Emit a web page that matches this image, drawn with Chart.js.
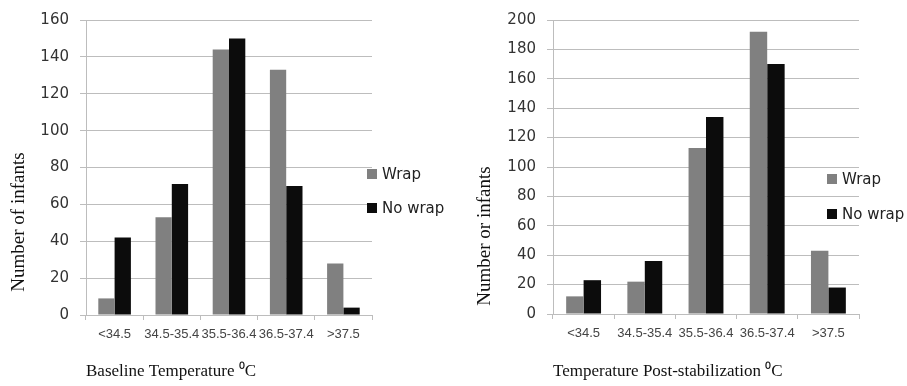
<!DOCTYPE html>
<html>
<head>
<meta charset="utf-8">
<script src="https://cdn.jsdelivr.net/npm/chart.js@4.4.1/dist/chart.umd.min.js"></script>
<style>
  body { margin: 0; background: #fff; }
  #holder { position: relative; width: 907px; height: 386px; }
  #chartBase { position: absolute; left: 0; top: 0; }
  #chartPost { position: absolute; left: 450px; top: 0; }
</style>
</head>
<body>
<div id="holder">
  <canvas id="chartBase" width="450" height="386"></canvas>
  <canvas id="chartPost" width="457" height="386"></canvas>
</div>
<script>
const categories = ["<34.5", "34.5-35.4", "35.5-36.4", "36.5-37.4", ">37.5"];
const seriesNames = ["Wrap", "No wrap"];

// baseline temperature
const baseWrap = [9, 53, 144, 133, 28];
const baseNoWrap = [42, 71, 150, 70, 4];
const baseMax = 160;

// post-stabilization temperature
const postWrap = [12, 22, 113, 192, 43];
const postNoWrap = [23, 36, 134, 170, 18];
const postMax = 200;

const tickStep = 20;
const gridColor = "#bdbdbd";

function sidePlugin(side) {
  return {
    id: "sideBits",
    afterDraw: (chart) => {
      const { ctx } = chart;
      // y axis title, rotated
      ctx.save();
      ctx.font = "19px 'Liberation Serif', serif";
      ctx.fillStyle = "#111";
      ctx.translate(side.titleX, side.titleY);
      ctx.rotate(-Math.PI / 2);
      ctx.textAlign = "center";
      ctx.textBaseline = "middle";
      ctx.fillText(side.yTitle, 0, 0);
      ctx.restore();

      // legend
      ctx.save();
      ctx.font = "15px 'DejaVu Sans', sans-serif";
      ctx.textBaseline = "middle";
      ctx.textAlign = "left";
      chart.data.datasets.forEach((ds, i) => {
        const cy = side.legendY[i];
        ctx.fillStyle = ds.backgroundColor;
        ctx.fillRect(side.legendX, cy - 5, 10, 10);
        ctx.fillStyle = "#222";
        ctx.fillText(ds.label, side.legendX + 15, cy + 1);
      });
      ctx.restore();
    },
  };
}

function makeChart(id, wrap, noWrap, yMax, xTitle, area, side) {
  const ctx = document.getElementById(id);
  return new Chart(ctx, {
    type: "bar",
    data: {
      labels: categories,
      datasets: [
        {
          label: seriesNames[0],
          data: wrap,
          backgroundColor: "#808080",
          categoryPercentage: 0.57,
          barPercentage: 1.0,
        },
        {
          label: seriesNames[1],
          data: noWrap,
          backgroundColor: "#0c0c0c",
          categoryPercentage: 0.57,
          barPercentage: 1.0,
        },
      ],
    },
    options: {
      responsive: false,
      animation: false,
      devicePixelRatio: 1,
      layout: {
        padding: { left: 0, top: area.top, right: area.right, bottom: 0 },
      },
      plugins: {
        legend: { display: false },
        tooltip: { enabled: false },
      },
      scales: {
        x: {
          grid: {
            offset: true,
            drawOnChartArea: false,
            drawTicks: true,
            tickLength: 5,
            color: gridColor,
          },
          border: { display: true, color: gridColor },
          ticks: {
            autoSkip: false,
            maxRotation: 0,
            minRotation: 0,
            padding: 7,
            color: "#444",
            font: { family: "'Liberation Sans', sans-serif", size: 13 },
          },
          title: {
            display: true,
            text: xTitle,
            align: "start",
            color: "#111",
            font: { family: "'Liberation Serif', serif", size: 17 },
            padding: { top: 0, bottom: 4 },
          },
          afterFit: (scale) => {
            scale.height = area.xHeight;
          },
        },
        y: {
          min: 0,
          max: yMax,
          grid: {
            color: gridColor,
            drawTicks: true,
            tickLength: 6,
          },
          border: { display: true, color: gridColor },
          ticks: {
            stepSize: tickStep,
            padding: 11,
            color: "#333",
            font: { family: "'DejaVu Sans', sans-serif", size: 15 },
          },
          afterFit: (scale) => {
            scale.width = area.left;
          },
        },
      },
    },
    plugins: [sidePlugin(side)],
  });
}

makeChart(
  "chartBase",
  baseWrap,
  baseNoWrap,
  baseMax,
  "Baseline Temperature \u2070C",
  { left: 86, top: 16, right: 450 - 372, xHeight: 386 - 315 },
  { yTitle: "Number of infants", titleX: 19, titleY: 222, legendX: 367, legendY: [174, 208] }
);

makeChart(
  "chartPost",
  postWrap,
  postNoWrap,
  postMax,
  "Temperature Post-stabilization \u2070C",
  { left: 103, top: 19, right: 457 - 409, xHeight: 386 - 314 },
  { yTitle: "Number or infants", titleX: 35, titleY: 236, legendX: 377, legendY: [179, 214] }
);
</script>
</body>
</html>
